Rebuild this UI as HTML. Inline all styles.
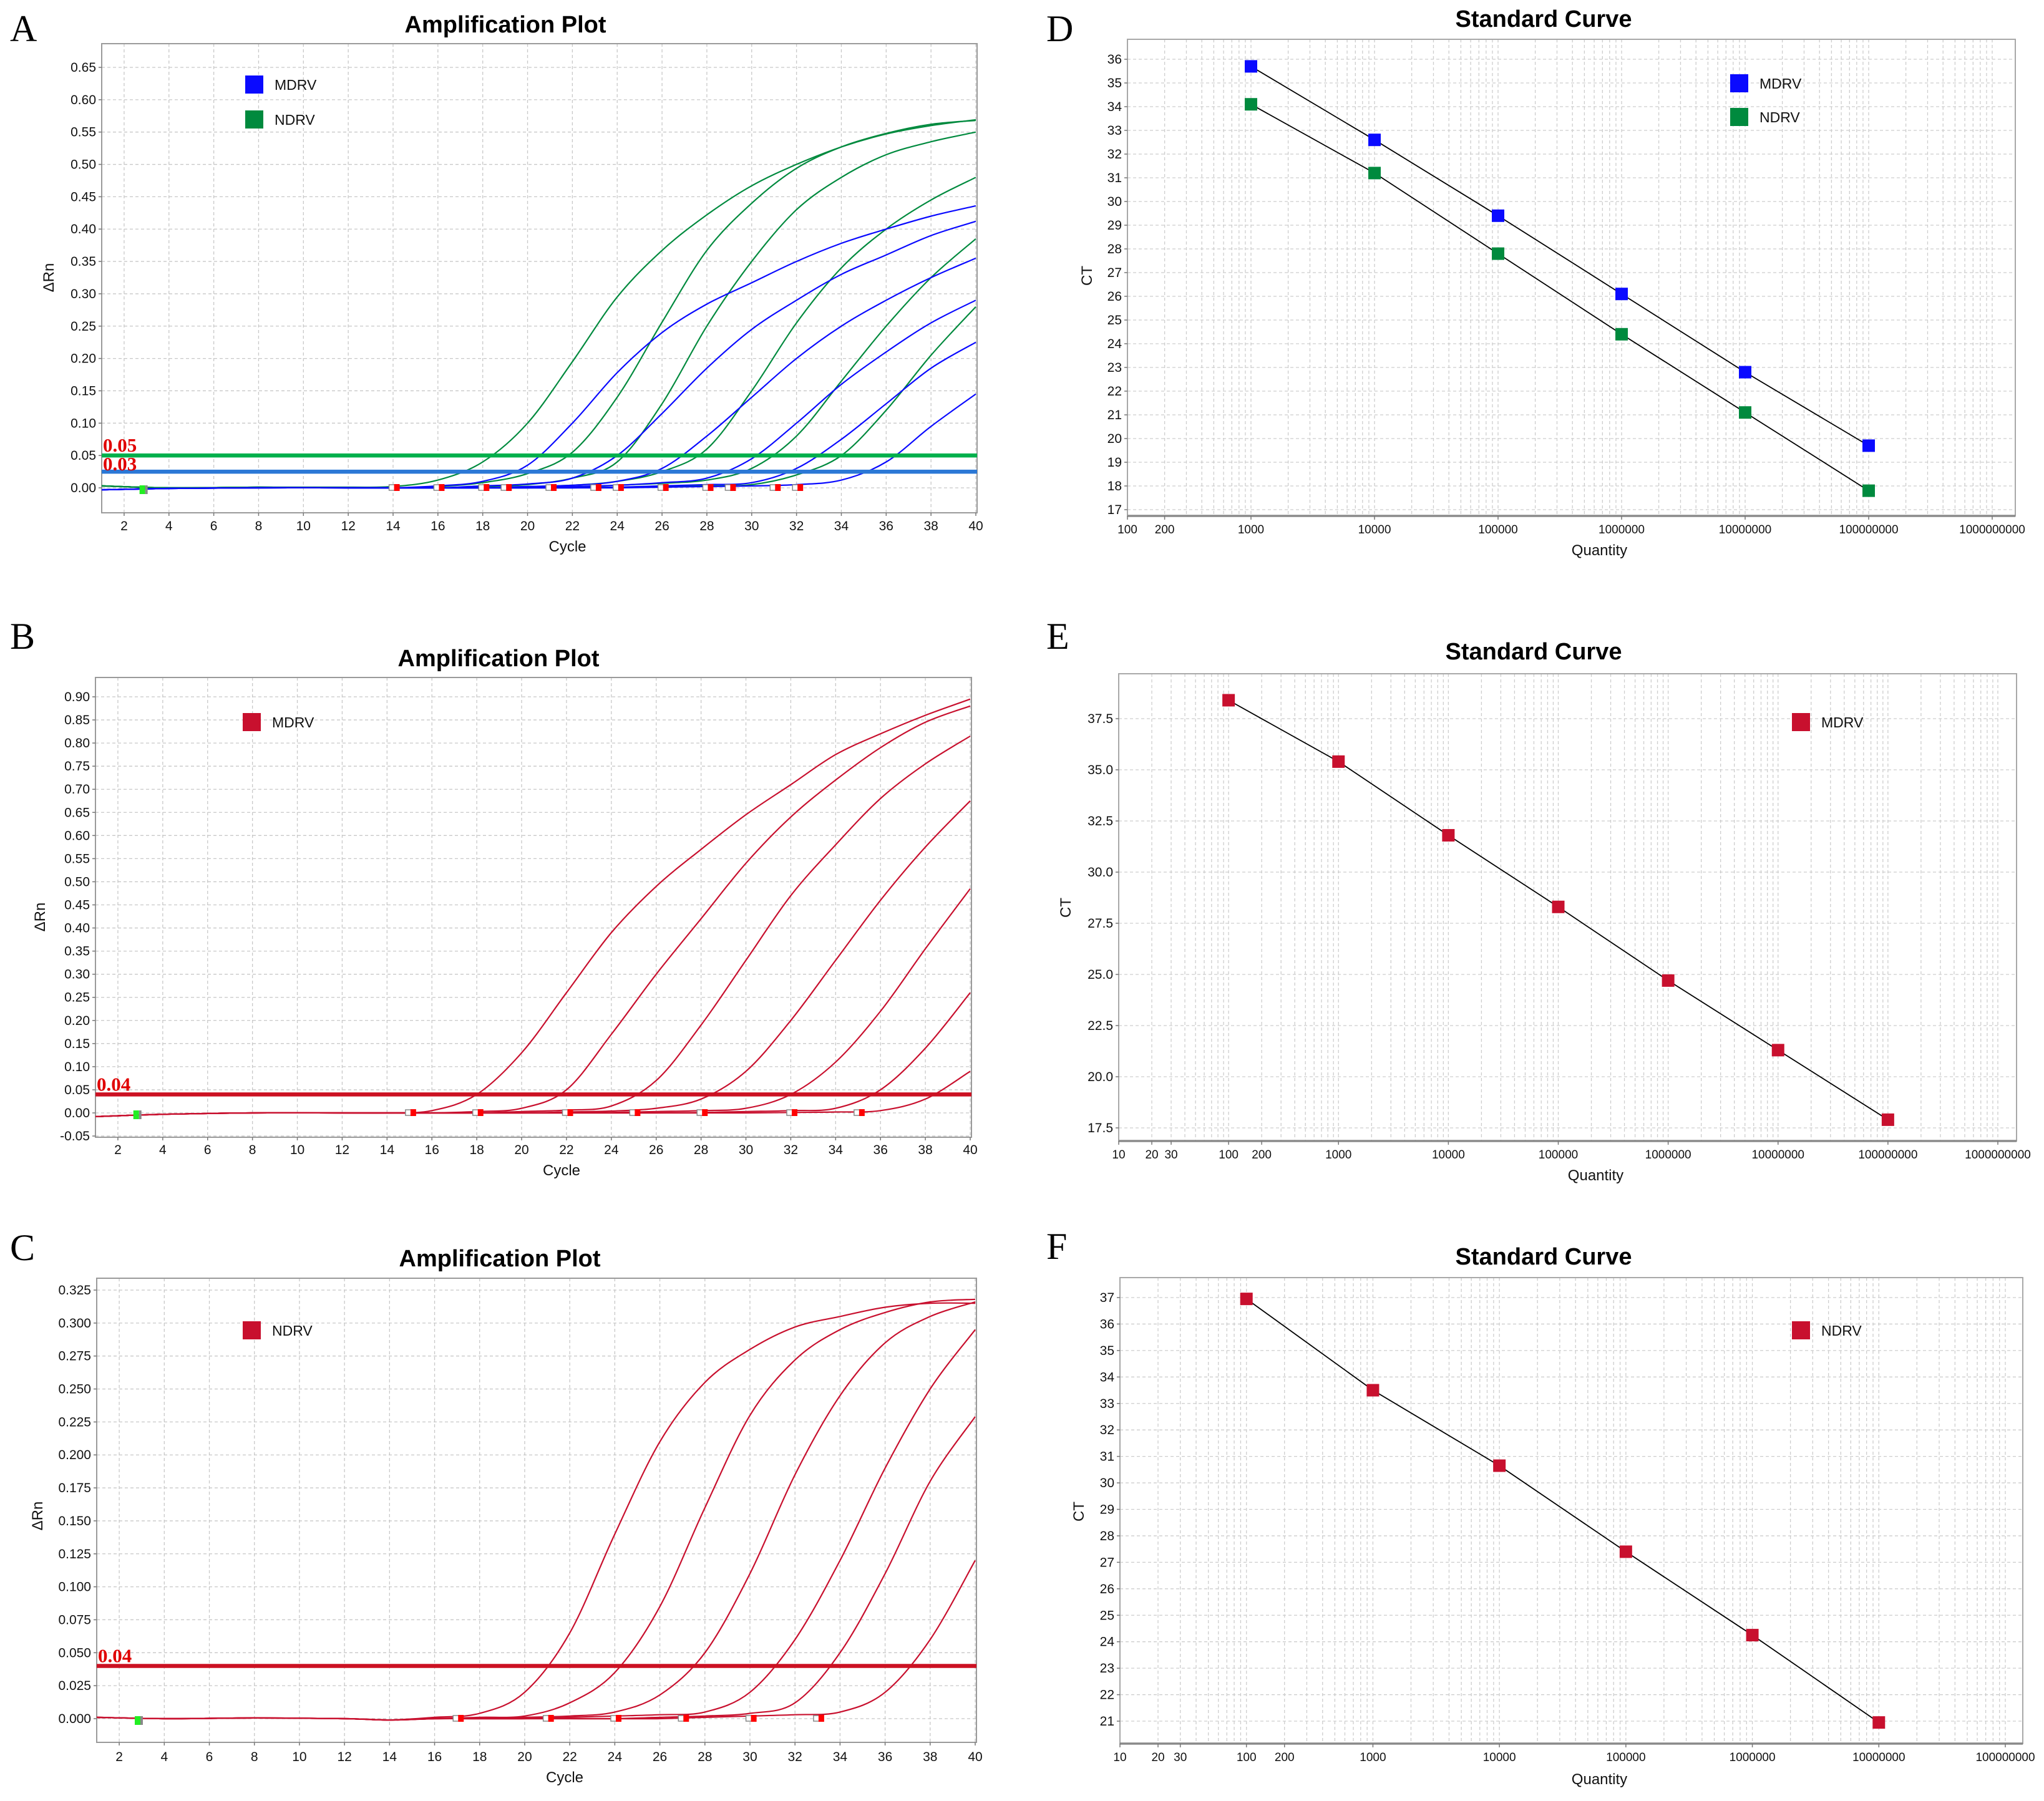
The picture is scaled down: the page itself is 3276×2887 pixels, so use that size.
<!DOCTYPE html>
<html><head><meta charset="utf-8">
<style>
html,body{margin:0;padding:0;background:#fff;}
svg{display:block;}
text{font-family:"Liberation Sans",sans-serif;}
.ttl{font-weight:bold;font-size:38px;}
.tk{font-size:21px;fill:#111;}
.lt{font-family:"Liberation Serif",serif;font-size:60px;}
.thr{font-family:"Liberation Serif",serif;font-weight:bold;font-size:31px;fill:#e00000;}
</style></head>
<body>
<svg id="fig" width="3276" height="2887" viewBox="0 0 3276 2887" xmlns="http://www.w3.org/2000/svg"></svg>
<script>
// ---------- sample cycles shared by amplification curves ----------
const sampleCycles = [1,4,8,12,14,16,18,20,22,24,26,28,30,32,34,36,38,40];

// Panel A – NDRV (green) curves
const aGreen1 = [0.003,0,0.001,0.001,0.002,0.012,0.04,0.10,0.195,0.295,0.367,0.422,0.467,0.50,0.527,0.547,0.56,0.569];
const aGreen2 = [0.003,0,0.001,0,0,0.002,0.008,0.022,0.055,0.14,0.256,0.367,0.44,0.494,0.527,0.548,0.562,0.568];
const aGreen3 = [0.003,0,0.001,0,0,0,0.002,0.005,0.015,0.04,0.13,0.25,0.35,0.43,0.48,0.515,0.535,0.55];
const aGreen4 = [0.003,0,0.001,0,0,0,0,0.002,0.004,0.01,0.025,0.06,0.15,0.255,0.34,0.40,0.445,0.48];
const aGreen5 = [0.003,0,0.001,0,0,0,0,0,0.001,0.004,0.007,0.012,0.03,0.08,0.165,0.25,0.325,0.385];
const aGreen6 = [0.003,0,0.001,0,0,0,0,0,0,0.001,0.002,0.003,0.005,0.02,0.05,0.12,0.205,0.28];
// Panel A – MDRV (blue) curves
const aBlue1 = [-0.003,-0.001,0,0,0,0.003,0.01,0.035,0.10,0.178,0.24,0.284,0.317,0.35,0.378,0.40,0.42,0.436];
const aBlue2 = [-0.003,-0.001,0,0,0,0,0.003,0.006,0.015,0.05,0.115,0.185,0.245,0.29,0.33,0.36,0.39,0.412];
const aBlue3 = [-0.003,-0.001,0,0,0,0,0,0.002,0.004,0.01,0.03,0.08,0.14,0.20,0.25,0.29,0.325,0.355];
const aBlue4 = [-0.003,-0.001,0,0,0,0,0,0,0.002,0.004,0.008,0.015,0.045,0.10,0.16,0.21,0.255,0.29];
const aBlue5 = [-0.003,-0.001,0,0,0,0,0,0,0,0.001,0.003,0.005,0.008,0.03,0.075,0.13,0.185,0.225];
const aBlue6 = [-0.003,-0.001,0,0,0,0,0,0,0,0,0.001,0.002,0.003,0.005,0.012,0.04,0.095,0.145];
const aYTicks = ["0.00","0.05","0.10","0.15","0.20","0.25","0.30","0.35","0.40","0.45","0.50","0.55","0.60","0.65"];
const aThresholds = [0.05, 0.025];
const aThresholdLabels = ["0.05","0.03"];
const aCtMarkers = [14.1,16.1,18.1,19.1,21.1,23.1,24.1,26.1,28.1,29.1,31.1,32.1];

// Panel B – MDRV curves
const bRed1 = [-0.008,-0.003,0,0,0,0.005,0.04,0.13,0.26,0.39,0.49,0.57,0.645,0.71,0.775,0.82,0.86,0.895];
const bRed2 = [-0.008,-0.003,0,0,0,0,0.003,0.01,0.05,0.17,0.30,0.42,0.54,0.64,0.72,0.79,0.845,0.88];
const bRed3 = [-0.008,-0.003,0,0,0,0,0,0.003,0.006,0.015,0.07,0.19,0.33,0.47,0.58,0.68,0.755,0.815];
const bRed4 = [-0.008,-0.003,0,0,0,0,0,0,0.002,0.004,0.01,0.03,0.09,0.20,0.33,0.46,0.575,0.675];
const bRed5 = [-0.008,-0.003,0,0,0,0,0,0,0,0.001,0.003,0.005,0.01,0.04,0.11,0.22,0.355,0.485];
const bRed6 = [-0.008,-0.003,0,0,0,0,0,0,0,0,0,0.001,0.003,0.005,0.01,0.05,0.14,0.26];
const bRed7 = [-0.008,-0.003,0,0,0,0,0,0,0,0,0,0,0,0.001,0.002,0.005,0.03,0.09];
const bYTicks = ["-0.05","0.00","0.05","0.10","0.15","0.20","0.25","0.30","0.35","0.40","0.45","0.50","0.55","0.60","0.65","0.70","0.75","0.80","0.85","0.90"];
const bThresholds = [0.04];
const bThresholdLabels = ["0.04"];
const bCtMarkers = [15.1,18.1,22.1,25.1,28.1,32.1,35.1];

// Panel C – NDRV curves
const cRed1 = [0.001,0,0.0005,0,-0.001,0.001,0.004,0.02,0.065,0.14,0.21,0.255,0.28,0.297,0.305,0.312,0.315,0.315];
const cRed2 = [0.001,0,0.0005,0,-0.001,0,0.001,0.002,0.012,0.035,0.085,0.16,0.23,0.272,0.295,0.308,0.316,0.318];
const cRed3 = [0.001,0,0.0005,0,-0.001,0,0,0.001,0.002,0.005,0.018,0.05,0.11,0.185,0.245,0.285,0.305,0.316];
const cRed4 = [0.001,0,0.0005,0,-0.001,0,0,0,0.001,0.002,0.003,0.005,0.02,0.06,0.12,0.19,0.25,0.295];
const cRed5 = [0.001,0,0.0005,0,-0.001,0,0,0,0,0,0.001,0.002,0.004,0.012,0.05,0.11,0.18,0.229];
const cRed6 = [0.001,0,0.0005,0,-0.001,0,0,0,0,0,0,0.001,0.002,0.003,0.005,0.02,0.06,0.12];
const cYTicks = ["0.000","0.025","0.050","0.075","0.100","0.125","0.150","0.175","0.200","0.225","0.250","0.275","0.300","0.325"];
const cThresholds = [0.04];
const cThresholdLabels = ["0.04"];
const cCtMarkers = [17.1,21.1,24.1,27.1,30.1,33.1];

// Standard curves
const dQuantities = [1e3,1e4,1e5,1e6,1e7,1e8];
const dMdrvCt = [35.7,32.6,29.4,26.1,22.8,19.7];
const dNdrvCt = [34.1,31.2,27.8,24.4,21.1,17.8];
const dYTicks = [17,18,19,20,21,22,23,24,25,26,27,28,29,30,31,32,33,34,35,36];
const dXTicks = ["100","200","1000","10000","100000","1000000","10000000","100000000","1000000000"];

const eQuantities = [1e2,1e3,1e4,1e5,1e6,1e7,1e8];
const eMdrvCt = [38.4,35.4,31.8,28.3,24.7,21.3,17.9];
const eYTicks = [17.5,20.0,22.5,25.0,27.5,30.0,32.5,35.0,37.5];
const eXTicks = ["10","20","30","100","200","1000","10000","100000","1000000","10000000","100000000","1000000000"];

const fQuantities = [1e2,1e3,1e4,1e5,1e6,1e7];
const fNdrvCt = [36.95,33.5,30.65,27.4,24.25,20.95];
const fYTicks = [21,22,23,24,25,26,27,28,29,30,31,32,33,34,35,36,37];
const fXTicks = ["10","20","30","100","200","1000","10000","100000","1000000","10000000","100000000"];

const NS = "http://www.w3.org/2000/svg";
const fig = document.getElementById('fig');
function mk(tag, attrs, parent){
  const e = document.createElementNS(NS, tag);
  for (const k in attrs) e.setAttribute(k, attrs[k]);
  (parent||fig).appendChild(e);
  return e;
}
function smoothPath(pts){
  let d = "M"+pts[0][0].toFixed(1)+","+pts[0][1].toFixed(1);
  for (let i=0;i<pts.length-1;i++){
    const p0=pts[Math.max(0,i-1)], p1=pts[i], p2=pts[i+1], p3=pts[Math.min(pts.length-1,i+2)];
    const c1x=p1[0]+(p2[0]-p0[0])/6, c1y=p1[1]+(p2[1]-p0[1])/6;
    const c2x=p2[0]-(p3[0]-p1[0])/6, c2y=p2[1]-(p3[1]-p1[1])/6;
    d+=" C"+c1x.toFixed(1)+","+c1y.toFixed(1)+" "+c2x.toFixed(1)+","+c2y.toFixed(1)+" "+p2[0].toFixed(1)+","+p2[1].toFixed(1);
  }
  return d;
}

function panelText(g, x, y, str, cls, anchor, name, extra){
  const t = mk('text', Object.assign({x:x, y:y, class:cls, 'text-anchor':anchor||'start'}, extra||{}), g);
  t.textContent = str;
  
  
  return t;
}

// ---------------- Amplification plot ----------------
function ampPlot(cfg){
  const g = mk('g', {});
  
  
  const xs = c => cfg.x1 + (c-1)*(cfg.x40-cfg.x1)/39;
  const ys = v => cfg.yA + (v-cfg.vA)*(cfg.yB-cfg.yA)/(cfg.vB-cfg.vA);
  panelText(g, cfg.letterX, cfg.letterY, cfg.letter, 'lt', 'start', 'panel-letter');
  panelText(g, cfg.titleX, cfg.titleY, 'Amplification Plot', 'ttl', 'middle', 'chart-title');
  // grid
  const grid = mk('g', {stroke:'#c8c8c8','stroke-width':1.3,'stroke-dasharray':'5,4'}, g);
  
  
  for (let c=2;c<=40;c+=2){ mk('line',{x1:xs(c),x2:xs(c),y1:cfg.top,y2:cfg.bottom},grid); }
  cfg.yTicks.forEach(s=>{ const v=parseFloat(s); mk('line',{x1:cfg.left,x2:cfg.right,y1:ys(v),y2:ys(v)},grid); });
  // frame
  const fr = mk('rect',{x:cfg.left,y:cfg.top,width:cfg.right-cfg.left,height:cfg.bottom-cfg.top,fill:'none',stroke:'#9a9a9a','stroke-width':2},g);
  
  
  // y ticks
  cfg.yTicks.forEach(s=>{
    const v=parseFloat(s);
    mk('line',{x1:cfg.left-5,x2:cfg.left,y1:ys(v),y2:ys(v),stroke:'#777','stroke-width':1.5},g);
    panelText(g, cfg.left-9, ys(v)+7, s, 'tk', 'end', 'y-tick-label');
  });
  for (let c=2;c<=40;c+=2){
    mk('line',{x1:xs(c),x2:xs(c),y1:cfg.bottom,y2:cfg.bottom+5,stroke:'#777','stroke-width':1.5},g);
    panelText(g, xs(c), cfg.xTickY, String(c), 'tk', 'middle', 'x-tick-label');
  }
  panelText(g, (cfg.left+cfg.right)/2+45, cfg.cycleY, 'Cycle', 'tk', 'middle', 'x-axis-title', {style:'font-size:24px'});
  panelText(g, 0, 0, 'ΔRn', 'tk', 'middle', 'y-axis-title', {transform:'translate('+cfg.ylabX+','+cfg.ylabY+') rotate(-90)', style:'font-size:24px'});
  // curves
  cfg.series.forEach(s=>{
    const pts = sampleCycles.map((c,i)=>[xs(c), ys(s.values[i])]);
    const p = mk('path',{d:smoothPath(pts),fill:'none',stroke:s.color,'stroke-width':2.2},g);
    
    
  });
  // ct markers
  cfg.markers.forEach(c=>{
    const m1 = mk('rect',{x:xs(c)-10,y:ys(0)-5,width:9,height:9,fill:'#fff',stroke:'#888','stroke-width':1.5},g);
    
    
    const m = mk('rect',{x:xs(c)-2,y:ys(0)-6,width:9,height:11,fill:'#ff0000'},g);
    
    
  });
  const bm = mk('rect',{x:xs(2.8)-4,y:ys(0)-4,width:9,height:14,fill:'#22ee22'},g);
  
  
  mk('rect',{x:xs(2.8)+5,y:ys(0)-4,width:4,height:14,fill:'#888'},g);
  // thresholds
  cfg.thresholds.forEach((t,i)=>{
    const l = mk('line',{x1:cfg.left,x2:cfg.right,y1:ys(t),y2:ys(t),stroke:cfg.thrColors[i],'stroke-width':6.5},g);
    
    
  });
  cfg.thresholds.forEach((t,i)=>{
    panelText(g, cfg.left+2, ys(t)-6+(cfg.thrLabelDy?cfg.thrLabelDy[i]:0), cfg.thrLabels[i], 'thr', 'start', 'threshold-label');
  });
  // legend
  cfg.legend.forEach(L=>{
    const r = mk('rect',{x:cfg.legX,y:L.y,width:29,height:29,fill:L.color},g);
    
    
    panelText(g, cfg.legX+47, L.y+23, L.label, 'tk', 'start', 'legend-entry', {style:'font-size:23px'});
  });
}

// ---------------- Standard curve ----------------
function stdPlot(cfg){
  const g = mk('g', {});
  
  
  const xs = q => cfg.xLo + (Math.log10(q)-cfg.decLo)*(cfg.xHi-cfg.xLo)/(cfg.decHi-cfg.decLo);
  const ys = v => cfg.yA + (v-cfg.vA)*(cfg.yB-cfg.yA)/(cfg.vB-cfg.vA);
  panelText(g, cfg.letterX, cfg.letterY, cfg.letter, 'lt', 'start', 'panel-letter');
  panelText(g, cfg.titleX, cfg.titleY, 'Standard Curve', 'ttl', 'middle', 'chart-title');
  const grid = mk('g', {stroke:'#cdcdcd','stroke-width':1.3,'stroke-dasharray':'5,4'}, g);
  
  
  for (let d=cfg.decLo; d<cfg.decHi+1; d++){
    for (let m=1;m<=9;m++){
      const q = m*Math.pow(10,d);
      if (Math.log10(q)>cfg.decHi+1e-9) break;
      const x = xs(q);
      if (x<=cfg.left+1 || x>=cfg.right) continue;
      mk('line',{x1:x,x2:x,y1:cfg.top,y2:cfg.bottom},grid);
    }
  }
  cfg.yTicks.forEach(v=>{ mk('line',{x1:cfg.left,x2:cfg.right,y1:ys(v),y2:ys(v)},grid); });
  const fr = mk('rect',{x:cfg.left,y:cfg.top,width:cfg.right-cfg.left,height:cfg.bottom-cfg.top,fill:'none',stroke:'#a8a8a8','stroke-width':2},g);
  
  
  mk('line',{x1:cfg.left,x2:cfg.right,y1:cfg.bottom,y2:cfg.bottom,stroke:'#8a8a8a','stroke-width':3.5},g);
  cfg.yTicks.forEach(v=>{
    mk('line',{x1:cfg.left-5,x2:cfg.left,y1:ys(v),y2:ys(v),stroke:'#777','stroke-width':1.5},g);
    panelText(g, cfg.left-9, ys(v)+7, cfg.yDec?v.toFixed(1):String(v), 'tk', 'end', 'y-tick-label');
  });
  cfg.xTicks.forEach(s=>{
    const x = xs(parseFloat(s));
    mk('line',{x1:x,x2:x,y1:cfg.bottom,y2:cfg.bottom+6,stroke:'#777','stroke-width':1.5},g);
    panelText(g, x, cfg.xTickY, s, 'tk', 'middle', 'x-tick-label', {style:'font-size:19px'});
  });
  panelText(g, (cfg.left+cfg.right)/2+45, cfg.qY, 'Quantity', 'tk', 'middle', 'x-axis-title', {style:'font-size:24px'});
  panelText(g, 0, 0, 'CT', 'tk', 'middle', 'y-axis-title', {transform:'translate('+cfg.ylabX+','+cfg.ylabY+') rotate(-90)', style:'font-size:24px'});
  cfg.series.forEach(s=>{
    const pts = cfg.quantities.map((q,i)=>xs(q).toFixed(1)+','+ys(s.ct[i]).toFixed(1)).join(' ');
    const l = mk('polyline',{points:pts,fill:'none',stroke:'#000','stroke-width':1.8},g);
    
    
    cfg.quantities.forEach((q,i)=>{
      const r = mk('rect',{x:xs(q)-10,y:ys(s.ct[i])-10,width:20,height:20,fill:s.color},g);
      
      
    });
  });
  cfg.legend.forEach(L=>{
    const r = mk('rect',{x:cfg.legX,y:L.y,width:29,height:29,fill:L.color},g);
    
    
    panelText(g, cfg.legX+47, L.y+23, L.label, 'tk', 'start', 'legend-entry', {style:'font-size:23px'});
  });
}

const BLUE='#0a0aff', GREEN='#008a3e', RED='#c8102e';
ampPlot({name:'panel-a-amplification', letter:'A', letterX:16, letterY:66, titleX:810, titleY:52,
  left:163, right:1566, top:70, bottom:822, x1:163, x40:1564, vA:0, yA:782, vB:0.65, yB:108,
  xTickY:850, cycleY:884, ylabX:86, ylabY:445, yTicks:aYTicks,
  series:[
    {name:'ndrv-curve-1',color:GREEN,values:aGreen1},{name:'ndrv-curve-2',color:GREEN,values:aGreen2},
    {name:'ndrv-curve-3',color:GREEN,values:aGreen3},{name:'ndrv-curve-4',color:GREEN,values:aGreen4},
    {name:'ndrv-curve-5',color:GREEN,values:aGreen5},{name:'ndrv-curve-6',color:GREEN,values:aGreen6},
    {name:'mdrv-curve-1',color:BLUE,values:aBlue1},{name:'mdrv-curve-2',color:BLUE,values:aBlue2},
    {name:'mdrv-curve-3',color:BLUE,values:aBlue3},{name:'mdrv-curve-4',color:BLUE,values:aBlue4},
    {name:'mdrv-curve-5',color:BLUE,values:aBlue5},{name:'mdrv-curve-6',color:BLUE,values:aBlue6}],
  markers:aCtMarkers, thresholds:aThresholds, thrLabels:aThresholdLabels, thrColors:['#00b04c','#2b78d6'], thrLabelDy:[0,4],
  legX:393, legend:[{y:121,color:BLUE,label:'MDRV'},{y:177,color:GREEN,label:'NDRV'}]});

ampPlot({name:'panel-b-amplification', letter:'B', letterX:16, letterY:1040, titleX:799, titleY:1068,
  left:153, right:1557, top:1086, bottom:1823, x1:153, x40:1555, vA:0, yA:1784, vB:0.90, yB:1117,
  xTickY:1850, cycleY:1884, ylabX:72, ylabY:1470, yTicks:bYTicks,
  series:[bRed1,bRed2,bRed3,bRed4,bRed5,bRed6,bRed7].map((v,i)=>({name:'mdrv-curve-'+(i+1),color:RED,values:v})),
  markers:bCtMarkers, thresholds:bThresholds, thrLabels:bThresholdLabels, thrColors:['#cc1122'],
  legX:389, legend:[{y:1143,color:RED,label:'MDRV'}]});

ampPlot({name:'panel-c-amplification', letter:'C', letterX:16, letterY:2020, titleX:801, titleY:2030,
  left:155, right:1565, top:2049, bottom:2793, x1:155, x40:1563, vA:0, yA:2755, vB:0.325, yB:2068,
  xTickY:2823, cycleY:2857, ylabX:68, ylabY:2430, yTicks:cYTicks,
  series:[cRed1,cRed2,cRed3,cRed4,cRed5,cRed6].map((v,i)=>({name:'ndrv-curve-'+(i+1),color:RED,values:v})),
  markers:cCtMarkers, thresholds:cThresholds, thrLabels:cThresholdLabels, thrColors:['#cc1122'],
  legX:389, legend:[{y:2118,color:RED,label:'NDRV'}]});

stdPlot({name:'panel-d-standard-curve', letter:'D', letterX:1677, letterY:66, titleX:2474, titleY:43,
  left:1807, right:3230, top:63, bottom:827, xLo:1807, xHi:3193, decLo:2, decHi:9,
  vA:17, yA:817, vB:36, yB:95, yTicks:dYTicks, xTicks:dXTicks, xTickY:855, qY:890, ylabX:1750, ylabY:442,
  quantities:dQuantities,
  series:[{name:'mdrv',color:BLUE,ct:dMdrvCt},{name:'ndrv',color:GREEN,ct:dNdrvCt}],
  legX:2773, legend:[{y:119,color:BLUE,label:'MDRV'},{y:173,color:GREEN,label:'NDRV'}]});

stdPlot({name:'panel-e-standard-curve', letter:'E', letterX:1677, letterY:1040, titleX:2458, titleY:1057,
  left:1793, right:3232, top:1080, bottom:1829, xLo:1793, xHi:3202, decLo:1, decHi:9,
  vA:17.5, yA:1808, vB:37.5, yB:1152, yTicks:eYTicks, yDec:true, xTicks:eXTicks, xTickY:1857, qY:1892, ylabX:1716, ylabY:1455,
  quantities:eQuantities, series:[{name:'mdrv',color:RED,ct:eMdrvCt}],
  legX:2872, legend:[{y:1143,color:RED,label:'MDRV'}]});

stdPlot({name:'panel-f-standard-curve', letter:'F', letterX:1677, letterY:2018, titleX:2474, titleY:2027,
  left:1795, right:3242, top:2048, bottom:2795, xLo:1795, xHi:3214, decLo:1, decHi:8,
  vA:21, yA:2759, vB:37, yB:2080, yTicks:fYTicks, xTicks:fXTicks, xTickY:2823, qY:2860, ylabX:1737, ylabY:2423,
  quantities:fQuantities, series:[{name:'ndrv',color:RED,ct:fNdrvCt}],
  legX:2872, legend:[{y:2118,color:RED,label:'NDRV'}]});
</script>
</body></html>
